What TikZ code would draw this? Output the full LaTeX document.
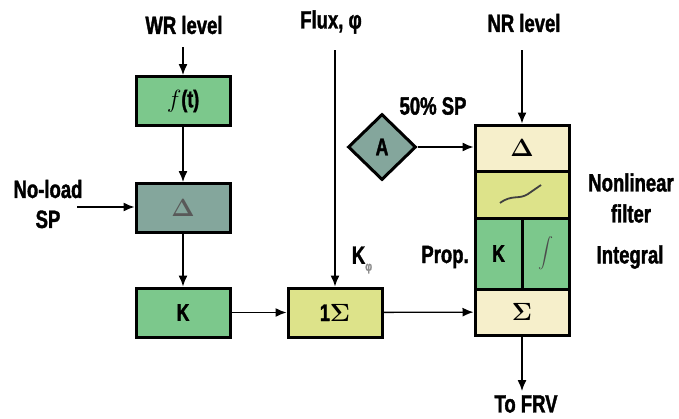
\documentclass[tikz,border=0pt]{standalone}
\usepackage[no-math]{fontspec}
\setmainfont{Liberation Sans}[FakeStretch=0.74, BoldFeatures={FakeBold=1.5}]
\usetikzlibrary{arrows.meta,positioning,shapes.geometric}
\definecolor{blkgreen}{HTML}{7CC88C}
\definecolor{blkgray}{HTML}{84A69C}
\definecolor{blkcream}{HTML}{F6EFCB}
\definecolor{blkyellow}{HTML}{DDE38A}
\tikzset{
  blk/.style={draw, line width=3pt, minimum width=94pt, minimum height=49pt, inner sep=0pt, font=\fontsize{24}{26}\selectfont\bfseries},
  lbl/.style={font=\fontsize{25}{27}\selectfont\bfseries, align=center, inner sep=0pt},
  sig/.style={-{Latex[length=11pt,width=9pt]}, line width=1.3pt}
}

\begin{document}
\begin{tikzpicture}[x=1pt, y=-1pt]
\useasboundingbox (0,0) rectangle (679,418);

% left chain
\node[blk, fill=blkgreen] (ft) at (183,101) {$f$(t)};
\node[blk, fill=blkgray] (dl) at (183,208) {\color{black!65}$\mathbf{\Delta}$};
\node[blk, fill=blkgreen] (kk) at (183,312.5) {K};
\node[blk, fill=blkyellow] (sm) at (335,312.5) {1$\mathbf{\Sigma}$};

% right stack
\node[blk, fill=blkcream, minimum height=46pt] (sd) at (522,148) {$\mathbf{\Delta}$};
\node[blk, fill=blkyellow, minimum height=47pt] (nl) at (522,194.5) {};
\node[blk, fill=blkgreen, minimum width=47pt, minimum height=71pt] (kp) at (498.5,253.5) {K};
\node[blk, fill=blkgreen, minimum width=47pt, minimum height=71pt] (ki) at (545.5,253.5) {\color{black!70}\scalebox{1.5}{$\displaystyle\int$}};
\node[blk, fill=blkcream, minimum height=46pt] (ss) at (522,312) {$\mathbf{\Sigma}$};
\draw[line width=1.8pt, black!75] (500,203) .. controls (512,194) and (519,200) .. (528,194) .. controls (534,190) .. (541,185);

\node[diamond, draw, line width=3pt, fill=blkgray, minimum width=68pt, minimum height=66pt, inner sep=0pt, font=\fontsize{24}{26}\selectfont\bfseries] (aa) at (382,147) {A};

% labels
\node[lbl] (wr) at (184,25) {WR level};
\node[lbl] (fx) at (331,22) {Flux, φ};
\node[lbl] (nr) at (524,23) {NR level};
\node[lbl] (sp) at (433,106) {50\% SP};
\node[lbl, align=center] (nlsp) at (48,204) {No-load\\[3pt]SP};
\node[lbl] (kf) at (362,260) {K\raisebox{-7pt}{\fontsize{13}{13}\selectfont\color{black!45}φ}};
\node[lbl] (pr) at (445,257) {Prop.};
\node[lbl] (nf) at (631,198) {Nonlinear\\[4pt]filter};
\node[lbl] (ig) at (630,257) {Integral};
\node[lbl] (fr) at (526,404) {To FRV};

\coordinate (wrx) at (183,47);
\coordinate (fxx) at (335,50);
\coordinate (nrx) at (522,50);
\coordinate (nlx) at (77,207);
\coordinate (frx) at (522,391);

% signal lines
\draw[sig] (wrx) -- (ft.north);
\draw[sig] (ft) -- (dl);
\draw[sig] (nlx) -- (nlx -| dl.west);
\draw[sig] (dl) -- (kk);
\draw[sig] (kk) -- (sm);
\draw[sig] (fxx) -- (sm.north);
\draw[sig] (nrx) -- (sd.north);
\draw[sig] (aa.east) -- (aa.east -| sd.west);
\draw[sig] (sm) -- (ss);
\draw[sig] (ss.south) -- (frx);
\end{tikzpicture}
\end{document}
